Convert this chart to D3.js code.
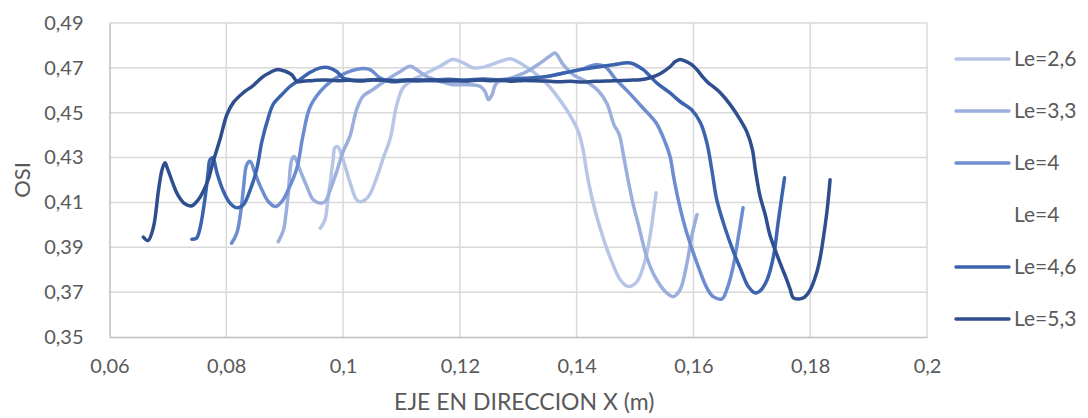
<!DOCTYPE html>
<html>
<head>
<meta charset="utf-8">
<script src="https://cdn.jsdelivr.net/npm/d3@7"></script>
<style>
  html, body { margin: 0; padding: 0; background: #ffffff; }
  svg { display: block; }
  text { font-family: Lato, "Open Sans", sans-serif; fill: #595959; }
</style>
</head>
<body>
<svg id="chart" width="1088" height="418"></svg>
<script>
// OSI along the X axis for several Le values: [x (m), OSI]
const le26 = [
  [0.0961,0.3985],[0.0969,0.4022],[0.0974,0.4112],[0.0978,0.4188],[0.0983,0.4290],[0.0986,0.4344],
  [0.0991,0.4348],[0.1000,0.4290],[0.1012,0.4188],[0.1023,0.4112],[0.1029,0.4103],[0.1043,0.4125],
  [0.1058,0.4214],[0.1069,0.4299],[0.1081,0.4388],[0.1092,0.4536],[0.1103,0.4612],[0.1120,0.4647],
  [0.1143,0.4677],[0.1166,0.4707],[0.1188,0.4737],[0.1206,0.4722],[0.1223,0.4700],[0.1246,0.4707],
  [0.1269,0.4729],[0.1286,0.4741],[0.1303,0.4722],[0.1325,0.4683],[0.1349,0.4629],[0.1372,0.4554],
  [0.1389,0.4487],[0.1403,0.4415],[0.1411,0.4335],[0.1418,0.4223],[0.1427,0.4112],[0.1440,0.3987],
  [0.1457,0.3857],[0.1475,0.3754],[0.1488,0.3725],[0.1503,0.3746],[0.1517,0.3839],[0.1526,0.3955],
  [0.1531,0.4045],[0.1536,0.4143]
];
const le33 = [
  [0.0889,0.3925],[0.0898,0.3978],[0.0902,0.4045],[0.0906,0.4134],[0.0912,0.4290],[0.0916,0.4305],
  [0.0921,0.4281],[0.0926,0.4246],[0.0938,0.4171],[0.0949,0.4112],[0.0961,0.4097],[0.0969,0.4103],
  [0.0978,0.4156],[0.0989,0.4237],[0.1000,0.4326],[0.1012,0.4397],[0.1023,0.4513],[0.1034,0.4573],
  [0.1051,0.4603],[0.1075,0.4647],[0.1098,0.4684],[0.1115,0.4707],[0.1126,0.4692],[0.1143,0.4662],
  [0.1166,0.4640],[0.1188,0.4625],[0.1212,0.4625],[0.1235,0.4617],[0.1243,0.4595],[0.1249,0.4558],
  [0.1255,0.4580],[0.1263,0.4633],[0.1280,0.4647],[0.1315,0.4684],[0.1338,0.4722],[0.1355,0.4754],
  [0.1363,0.4766],[0.1377,0.4714],[0.1394,0.4670],[0.1417,0.4638],[0.1437,0.4598],[0.1452,0.4540],
  [0.1464,0.4446],[0.1473,0.4402],[0.1480,0.4313],[0.1488,0.4201],[0.1497,0.4089],[0.1505,0.4009],
  [0.1520,0.3857],[0.1534,0.3769],[0.1552,0.3702],[0.1565,0.3680],[0.1577,0.3710],[0.1589,0.3830],
  [0.1597,0.3948],[0.1606,0.4045]
];
const le40 = [
  [0.0809,0.3918],[0.0818,0.3963],[0.0826,0.4082],[0.0830,0.4179],[0.0835,0.4268],[0.0841,0.4283],
  [0.0849,0.4232],[0.0861,0.4156],[0.0872,0.4104],[0.0884,0.4082],[0.0895,0.4104],[0.0906,0.4156],
  [0.0921,0.4254],[0.0931,0.4393],[0.0943,0.4522],[0.0961,0.4595],[0.0983,0.4647],[0.1006,0.4679],
  [0.1029,0.4696],[0.1046,0.4692],[0.1063,0.4656],[0.1081,0.4638],[0.1100,0.4640],[0.1130,0.4643],
  [0.1160,0.4641],[0.1190,0.4640],[0.1220,0.4644],[0.1250,0.4645],[0.1280,0.4648],[0.1310,0.4650],
  [0.1338,0.4656],[0.1372,0.4674],[0.1406,0.4692],[0.1433,0.4714],[0.1449,0.4705],[0.1466,0.4652],
  [0.1488,0.4594],[0.1510,0.4531],[0.1536,0.4455],[0.1552,0.4366],[0.1560,0.4304],[0.1567,0.4201],
  [0.1576,0.4089],[0.1588,0.3969],[0.1606,0.3830],[0.1623,0.3719],[0.1634,0.3680],[0.1649,0.3670],
  [0.1657,0.3710],[0.1668,0.3814],[0.1677,0.3948],[0.1685,0.4076]
];
const le46 = [
  [0.0741,0.3936],[0.0749,0.3941],[0.0755,0.3985],[0.0764,0.4126],[0.0769,0.4237],[0.0772,0.4290],
  [0.0777,0.4299],[0.0784,0.4232],[0.0794,0.4156],[0.0806,0.4098],[0.0818,0.4076],[0.0829,0.4089],
  [0.0841,0.4156],[0.0852,0.4246],[0.0861,0.4372],[0.0872,0.4478],[0.0880,0.4536],[0.0895,0.4580],
  [0.0909,0.4617],[0.0926,0.4647],[0.0943,0.4679],[0.0961,0.4700],[0.0974,0.4702],[0.0989,0.4684],
  [0.1000,0.4655],[0.1012,0.4647],[0.1030,0.4645],[0.1060,0.4648],[0.1090,0.4644],[0.1120,0.4647],
  [0.1150,0.4645],[0.1180,0.4649],[0.1210,0.4646],[0.1240,0.4650],[0.1270,0.4647],[0.1300,0.4652],
  [0.1320,0.4655],[0.1349,0.4662],[0.1406,0.4692],[0.1463,0.4714],[0.1492,0.4722],[0.1514,0.4692],
  [0.1537,0.4633],[0.1560,0.4588],[0.1577,0.4550],[0.1597,0.4513],[0.1612,0.4455],[0.1623,0.4366],
  [0.1632,0.4237],[0.1640,0.4112],[0.1654,0.3987],[0.1668,0.3884],[0.1680,0.3808],[0.1694,0.3725],
  [0.1706,0.3696],[0.1714,0.3705],[0.1726,0.3754],[0.1737,0.3858],[0.1745,0.4009],[0.1756,0.4210]
];
const le53 = [
  [0.0658,0.3945],[0.0666,0.3930],[0.0675,0.3987],[0.0684,0.4156],[0.0690,0.4246],[0.0695,0.4277],
  [0.0700,0.4246],[0.0707,0.4196],[0.0717,0.4134],[0.0729,0.4094],[0.0741,0.4085],[0.0752,0.4112],
  [0.0760,0.4147],[0.0769,0.4201],[0.0777,0.4277],[0.0789,0.4379],[0.0801,0.4491],[0.0812,0.4545],
  [0.0829,0.4589],[0.0846,0.4621],[0.0863,0.4661],[0.0875,0.4679],[0.0886,0.4692],[0.0901,0.4685],
  [0.0912,0.4670],[0.0921,0.4640],[0.0931,0.4640],[0.0950,0.4644],[0.0970,0.4646],[0.0990,0.4643],
  [0.1010,0.4645],[0.1030,0.4641],[0.1050,0.4646],[0.1070,0.4644],[0.1090,0.4640],[0.1110,0.4645],
  [0.1130,0.4643],[0.1150,0.4647],[0.1170,0.4642],[0.1190,0.4645],[0.1210,0.4641],[0.1230,0.4646],
  [0.1250,0.4643],[0.1270,0.4645],[0.1290,0.4640],[0.1310,0.4644],[0.1330,0.4642],[0.1350,0.4641],
  [0.1370,0.4638],[0.1390,0.4640],[0.1410,0.4637],[0.1430,0.4640],[0.1450,0.4641],[0.1470,0.4643],
  [0.1490,0.4645],[0.1509,0.4647],[0.1526,0.4656],[0.1543,0.4674],[0.1560,0.4705],[0.1569,0.4728],
  [0.1577,0.4737],[0.1588,0.4728],[0.1597,0.4714],[0.1606,0.4692],[0.1617,0.4656],[0.1625,0.4634],
  [0.1634,0.4616],[0.1646,0.4589],[0.1663,0.4536],[0.1680,0.4469],[0.1692,0.4411],[0.1701,0.4335],
  [0.1706,0.4246],[0.1714,0.4129],[0.1723,0.4045],[0.1731,0.3955],[0.1749,0.3826],[0.1760,0.3754],
  [0.1766,0.3710],[0.1771,0.3674],[0.1783,0.3670],[0.1791,0.3679],[0.1800,0.3710],[0.1811,0.3786],
  [0.1817,0.3853],[0.1822,0.3933],[0.1829,0.4067],[0.1834,0.4201]
];

const seriesNames = ["Le=2,6", "Le=3,3", "Le=4", "Le=4", "Le=4,6", "Le=5,3"];
const seriesData = [le26, le33, le40, [], le46, le53];
const seriesColors = ["#B7C5E6", "#9BAEDC", "#6D8DD0", "#FFFFFF", "#3C63AE", "#2E4E8D"];

const xTicks = [0.06, 0.08, 0.1, 0.12, 0.14, 0.16, 0.18, 0.2];
const yTicks = [0.35, 0.37, 0.39, 0.41, 0.43, 0.45, 0.47, 0.49];

const xTitle = "EJE EN DIRECCION X (m)";
const yTitle = "OSI";

const svg = d3.select("#chart");
const plot = { left: 109.5, right: 927, top: 23, bottom: 337 };

const x = d3.scaleLinear().domain([0.06, 0.2]).range([plot.left, plot.right]);
const y = d3.scaleLinear().domain([0.35, 0.49]).range([plot.bottom, plot.top]);
const fmt = d => String(+d.toFixed(2)).replace(".", ",");

// gridlines
const grid = svg.append("g");
grid.selectAll("line.h").data(yTicks.slice(1)).enter().append("line")
  .attr("x1", plot.left).attr("x2", plot.right)
  .attr("y1", d => y(d)).attr("y2", d => y(d))
  .attr("stroke", "#D9D9D9").attr("stroke-width", 1.5);
grid.selectAll("line.v").data(xTicks.slice(1)).enter().append("line")
  .attr("y1", plot.top).attr("y2", plot.bottom)
  .attr("x1", d => x(d)).attr("x2", d => x(d))
  .attr("stroke", "#D9D9D9").attr("stroke-width", 1.5);

// axes
const xAxis = svg.append("g").attr("transform", `translate(0,${plot.bottom})`)
  .call(d3.axisBottom(x).tickValues(xTicks).tickFormat(fmt).tickSize(0).tickPadding(22));
const yAxis = svg.append("g").attr("transform", `translate(${plot.left},0)`)
  .call(d3.axisLeft(y).tickValues(yTicks).tickFormat(fmt).tickSize(0).tickPadding(26));
[xAxis, yAxis].forEach(a => {
  a.select(".domain").attr("stroke", "#BFBFBF").attr("stroke-width", 1.5);
  a.selectAll("text").style("font-size", "20px").attr("fill", "#595959")
    .style("font-family", "Lato, 'Open Sans', sans-serif");
});

// series lines
const line = d3.line().x(d => x(d[0])).y(d => y(d[1])).curve(d3.curveCatmullRom.alpha(0.5));
svg.append("g").selectAll("path").data(seriesData).enter().append("path")
  .attr("d", d => d.length ? line(d) : null)
  .attr("fill", "none")
  .attr("stroke", (d, i) => seriesColors[i])
  .attr("stroke-width", 3.5)
  .attr("stroke-linejoin", "round")
  .attr("stroke-linecap", "round");

// axis titles
svg.append("text").attr("x", (plot.left + plot.right) / 2 + 6).attr("y", 410)
  .attr("text-anchor", "middle").style("font-size", "23px").text(xTitle);
svg.append("text").attr("transform", `translate(30,${(plot.top + plot.bottom) / 2}) rotate(-90)`)
  .attr("text-anchor", "middle").style("font-size", "22px").text(yTitle);

// legend
const legend = svg.append("g").selectAll("g").data(seriesNames).enter().append("g")
  .attr("transform", (d, i) => `translate(956,${59 + i * 52})`);
legend.append("line").attr("x1", 0).attr("x2", 53).attr("y1", 0).attr("y2", 0)
  .attr("stroke", (d, i) => seriesColors[i]).attr("stroke-width", 3.5).attr("stroke-linecap", "round");
legend.append("text").attr("x", 58).attr("y", 0).attr("dy", "0.35em")
  .style("font-size", "21px").text(d => d);
</script>
</body>
</html>
